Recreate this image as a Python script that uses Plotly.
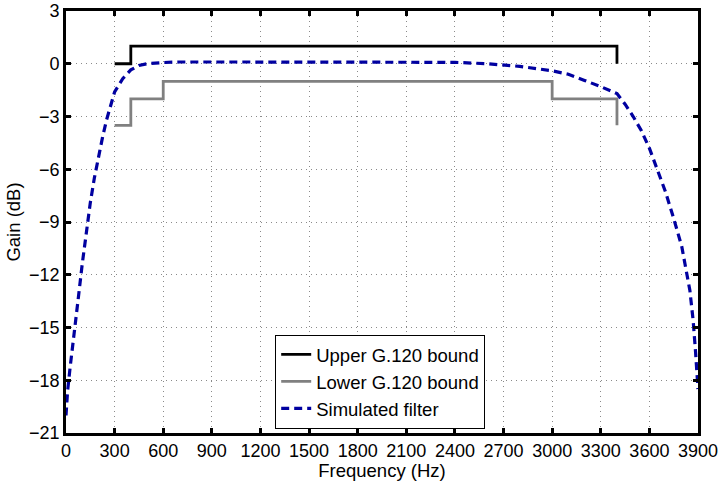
import plotly.graph_objects as go

# G.120 mask: upper and lower gain bounds (step shape, hv)
upper_freq = [300, 400, 3400, 3400]
upper_gain = [0, 1, 1, 0]
lower_freq = [300, 400, 600, 3000, 3400, 3400]
lower_gain = [-3.5, -2, -1, -2, -2, -3.5]

# Simulated filter magnitude response
sim_freq = [0, 10, 25, 50, 75, 100, 125, 150, 175, 200, 225, 250, 275, 300,
            350, 400, 450, 500, 600, 700, 1000, 1500, 2000, 2400, 2600, 2800,
            3000, 3100, 3200, 3300, 3400, 3450, 3500, 3550, 3600, 3650, 3700,
            3750, 3800, 3850, 3870, 3885, 3900]
sim_gain = [-20.0, -18.6, -17.3, -15.5, -13.4, -11.4, -9.6, -7.9, -6.5, -5.3,
            -4.2, -3.2, -2.4, -1.6, -0.85, -0.35, -0.1, 0.0, 0.07, 0.1, 0.1,
            0.1, 0.1, 0.08, 0.0, -0.15, -0.4, -0.6, -0.95, -1.3, -1.7, -2.3,
            -3.0, -3.8, -4.8, -6.0, -7.3, -8.8, -10.4, -12.9, -14.6, -16.4,
            -18.5]

x_ticks = list(range(0, 3901, 300))
y_ticks = list(range(-21, 4, 3))

FONT = "Liberation Sans, Arial, Helvetica, sans-serif"

fig = go.Figure()
fig.add_trace(go.Scatter(x=upper_freq, y=upper_gain, mode="lines",
                         line=dict(color="black", width=2.8, shape="hv"),
                         name="Upper G.120 bound"))
fig.add_trace(go.Scatter(x=lower_freq, y=lower_gain, mode="lines",
                         line=dict(color="#808080", width=2.8, shape="hv"),
                         name="Lower G.120 bound"))
fig.add_trace(go.Scatter(x=sim_freq, y=sim_gain, mode="lines",
                         line=dict(color="#0000a0", width=3.2, dash="8px,5px"),
                         name="Simulated filter"))

axis_common = dict(
    showline=True, linecolor="black", linewidth=2.6, mirror="ticks",
    ticks="inside", ticklen=5, tickwidth=2.6, tickcolor="black",
    showgrid=True, gridcolor="#8a8a8a", griddash="1px,4px", gridwidth=1,
    zeroline=False, automargin=False, ticklabeloverflow="allow",
    tickfont=dict(family=FONT, size=18, color="black"),
)

fig.update_xaxes(range=[0, 3900], tickvals=x_ticks,
                 title=dict(text="Frequency (Hz)", standoff=0,
                            font=dict(family=FONT, size=18.5, color="black")),
                 **axis_common)
fig.update_yaxes(range=[-21, 3], tickvals=y_ticks,
                 title=dict(text="Gain (dB)", standoff=4,
                            font=dict(family=FONT, size=18.5, color="black")),
                 **axis_common)

fig.update_layout(
    width=721, height=481,
    margin=dict(l=66, r=23, t=11, b=48),
    paper_bgcolor="white", plot_bgcolor="white",
    showlegend=True,
    legend=dict(x=0.331, y=0.01, xanchor="left", yanchor="bottom",
                bgcolor="white", bordercolor="black", borderwidth=1,
                font=dict(family=FONT, size=18.5, color="black"),
                tracegroupgap=0, itemwidth=30),
)

fig.write_html("out.html")
